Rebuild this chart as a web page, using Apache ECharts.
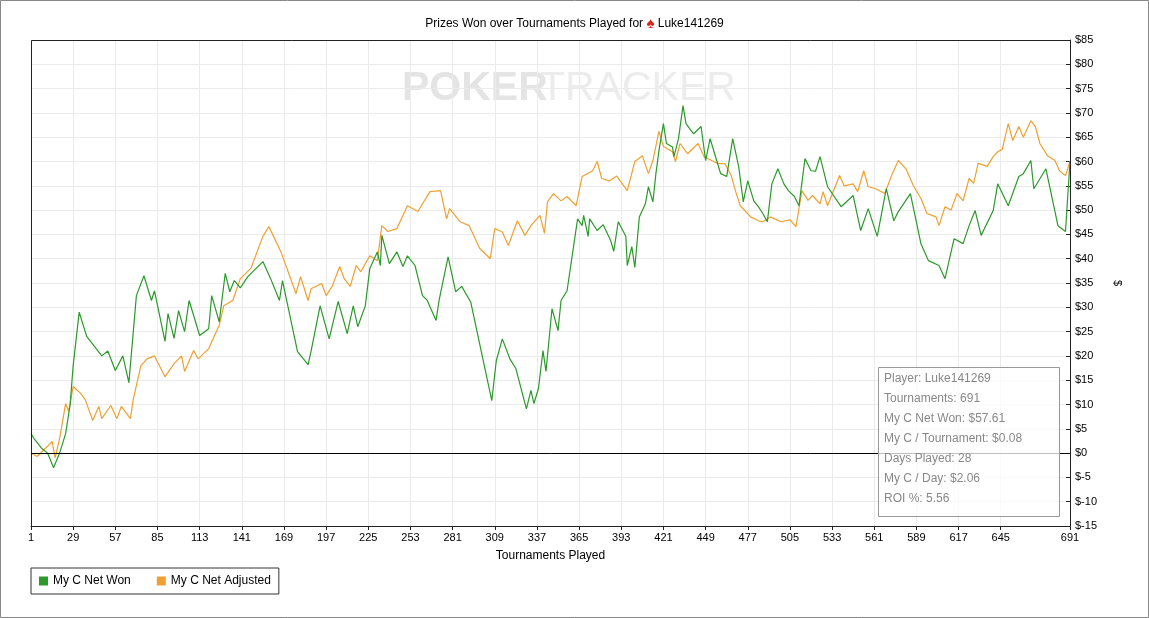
<!DOCTYPE html>
<html><head><meta charset="utf-8">
<script src="https://cdn.jsdelivr.net/npm/echarts@6/dist/echarts.min.js"></script>
<style>html,body{margin:0;padding:0;background:#fff}#c{width:1149px;height:618px}</style>
</head><body><div id="c"></div>
<script>
const netWonT = [1,3,8,12,16,20,24,27,29,33,38,43,48,52,57,62,66,71,76,81,83,90,92,96,99,103,106,113,119,121,126,130,133,136,140,145,155,160,166,168,178,185,187,193,199,205,211,215,218,223,226,231,233,234,239,244,248,251,256,261,264,270,272,278,283,287,293,307,310,314,319,323,330,333,335,338,341,343,347,351,353,357,364,367,368,371,372,377,381,386,388,391,396,397,400,402,405,409,411,414,416,418,421,423,427,428,431,434,436,441,446,449,452,455,459,463,467,471,474,477,481,484,487,490,493,497,501,504,508,511,515,519,522,525,530,539,547,552,557,563,569,574,577,585,592,597,604,608,614,620,624,628,632,640,643,650,657,660,665,667,675,683,688,691];
const netWon  = [4,3,1,0,-3,0,4,10,18,29,24,22,20,21,17,20,14.5,32.4,36.5,31.4,33.4,23,28.7,23.6,29.3,25,31.4,24.2,25.6,32.4,27,37,33.2,35.5,34,36.3,39.4,36,31.4,35.5,20.9,18.2,21,30.3,23.5,31.2,24.6,30.3,26,30.3,38,41.4,38.6,44.8,39,41.4,38.4,40.6,38.6,32.4,31.5,27.3,31.4,40.4,33.2,34.3,31.1,10.8,19,23.5,19.4,17.4,9.1,12.9,10.2,13.3,21.1,16.8,29.7,25.2,31.4,33.4,48.2,46.8,48.9,44.6,48.2,45.8,47,43.7,41.5,47.6,44.6,38.6,42.5,38.2,48.6,51.3,54.8,51.7,57.5,62.2,67.8,63.7,63,61,64.7,71.5,67.8,65.7,67.2,60.2,64.7,61.6,57.5,56.9,64.7,58.9,51.7,56,51.9,50.7,49.3,47.6,55.4,58.5,55.4,54,52.8,50.9,60.6,58.1,58,61,54.8,50.7,53,45.8,50.3,44.6,54.4,47.8,49.7,53.4,43.1,39.6,38.6,35.9,44.1,43.1,46.8,49.9,44.8,49.9,55.4,50.9,56.9,57.5,60.2,54.4,58.5,46.8,45.6,60,57.61];
const adjT = [1,5,12,15,17,20,24,26,29,34,37,42,46,48,54,58,61,67,69,74,78,83,90,96,101,103,109,112,119,126,129,135,140,147,155,159,167,177,180,185,187,194,197,201,206,209,213,217,220,226,231,234,238,244,251,258,261,266,273,277,279,286,292,299,306,309,314,318,324,329,333,339,342,344,348,353,357,363,367,374,377,380,385,390,397,402,407,411,414,418,421,427,429,432,437,444,448,451,457,462,466,469,472,479,484,487,492,499,505,509,513,517,520,525,527,530,538,541,547,550,554,557,562,568,573,577,582,587,592,596,602,604,608,612,616,620,624,627,630,636,640,643,646,650,653,657,660,665,668,671,676,681,684,688,691];
const adjusted = [0,-0.7,1.4,2.4,-1,3,10.2,8.6,13.7,12.3,11,6.7,9.6,7.1,9.8,7.1,9.6,7.1,11.2,18,19.4,20,15.7,18.4,20,16.8,21.1,19.4,21.5,26.3,30.3,31.4,35.9,38,44.6,46.6,41.4,32.8,36.3,31.4,33.8,34.9,32.4,34.3,38.4,35.9,34.3,38.6,37.3,40.6,39.6,46.8,45.6,46.2,50.9,49.7,51.3,53.8,54,48.2,50.3,47.6,46.8,42.1,40,46.2,45.5,42.7,47.8,44.8,46.8,48.9,45.2,51.7,53.4,51.9,52.8,50.9,56.9,58.1,60,56.5,56,57,54,60,61.2,57.5,60.2,66.2,63.1,62,60,63.7,61.6,63.7,61,60.5,59.6,59.5,57.1,53.8,50.9,48.6,47.8,47.6,48.6,47.6,48,46.6,54,52,53,51.3,53.8,50.9,57.1,55,55.4,53.8,58.1,54.8,54.4,53.4,57.5,60.2,58.5,55,52.4,49.3,48.6,46.8,50.7,50,53.4,51.9,56.5,55.5,59.6,59,61,62,62.5,67.8,64.3,67.2,65,68.4,67.2,63.7,61.2,60.2,58.1,57.1,60,56];
const xTickLabels = [1,29,57,85,113,141,169,197,225,253,281,309,337,365,393,421,449,477,505,533,561,589,617,645,691];
const infoLines = ['Player: Luke141269','Tournaments: 691','My C Net Won: $57.61','My C / Tournament: $0.08','Days Played: 28','My C / Day: $2.06','ROI %: 5.56'];

const pairs = (xs, ys) => xs.map((t, i) => [t - 1, ys[i]]);
const chart = echarts.init(document.getElementById('c'));
const ff = 'Liberation Sans, Arial, sans-serif';
chart.setOption({
  animation: false,
  textStyle: {fontFamily: ff},
  title: {text: 'Prizes Won over Tournaments Played for {sp|♠} Luke141269', left: 'center', top: 11,
    textStyle: {fontSize: 12, fontWeight: 'normal', color: '#000', fontFamily: ff, rich: {sp: {color: '#d9261c', fontSize: 15}}}},
  grid: {left: 31, right: 79, top: 40, bottom: 92},
  xAxis: {type: 'value', min: 0, max: 690, interval: 28, name: 'Tournaments Played', nameLocation: 'middle', nameGap: 24,
    nameTextStyle: {fontSize: 12, color: '#000'},
    axisLine: {onZero: false, lineStyle: {color: '#222'}},
    axisTick: {show: true, length: 4, customValues: xTickLabels.map(v => v - 1), lineStyle: {color: '#222'}},
    axisLabel: {customValues: xTickLabels.map(v => v - 1), formatter: v => String(v + 1), fontSize: 11, color: '#000', margin: 6},
    splitLine: {lineStyle: {color: '#ebebeb'}}},
  yAxis: {type: 'value', position: 'right', min: -15, max: 85, interval: 5, name: '$', nameLocation: 'middle', nameGap: 42, nameRotate: -90,
    nameTextStyle: {fontSize: 11, color: '#000'},
    axisLine: {show: true, onZero: false, lineStyle: {color: '#222'}}, axisTick: {show: true, inside: true, length: 4, lineStyle: {color: '#222'}},
    axisLabel: {formatter: v => '$' + v, fontSize: 11, color: '#000', margin: 5},
    splitLine: {lineStyle: {color: '#ebebeb'}}},
  legend: {left: 31, top: 568, orient: 'horizontal', borderColor: '#333', borderWidth: 1, padding: [7, 8, 7, 8],
    itemWidth: 9, itemHeight: 9, icon: 'rect', itemGap: 26, textStyle: {fontSize: 12, color: '#000'},
    data: ['My C Net Won', 'My C Net Adjusted']},
  graphic: [
    {type: 'rect', shape: {x: 0.5, y: 0.5, width: 1148, height: 617}, style: {fill: 'none', stroke: '#888'}, silent: true},
    {type: 'rect', shape: {x: 31.5, y: 40.5, width: 1039, height: 486}, z: 5, style: {fill: 'none', stroke: '#222'}, silent: true},
    {type: 'text', left: 402, top: 68, z: 0, style: {text: 'POKER', fontSize: 41, fontWeight: 'bold', fill: '#e4e4e4', fontFamily: ff}},
    {type: 'text', left: 540, top: 68, z: 0, style: {text: 'TRACKER', fontSize: 41, fill: '#ececec', fontFamily: ff}},
    {type: 'rect', shape: {x: 878.5, y: 367.5, width: 181, height: 149}, z: 10, style: {fill: 'rgba(255,255,255,0.75)', stroke: '#999'}},
    ...infoLines.map((t, i) => ({type: 'text', left: 884, top: 373 + i * 20, z: 11, style: {text: t, fontSize: 12, fill: '#888', fontFamily: ff}}))
  ],
  series: [
    {name: 'My C Net Won', type: 'line', data: pairs(netWonT, netWon), showSymbol: false, symbol: 'none',
      itemStyle: {color: '#2a9a2a'}, lineStyle: {width: 1.2, color: '#2a9a2a'}, z: 3,
      markLine: {silent: true, symbol: 'none', label: {show: false}, lineStyle: {color: '#000', width: 1, type: 'solid'}, data: [{yAxis: 0}]}},
    {name: 'My C Net Adjusted', type: 'line', data: pairs(adjT, adjusted), showSymbol: false, symbol: 'none',
      itemStyle: {color: '#f0a030'}, lineStyle: {width: 1.2, color: '#f0a030'}, z: 2}
  ]
});
</script></body></html>
